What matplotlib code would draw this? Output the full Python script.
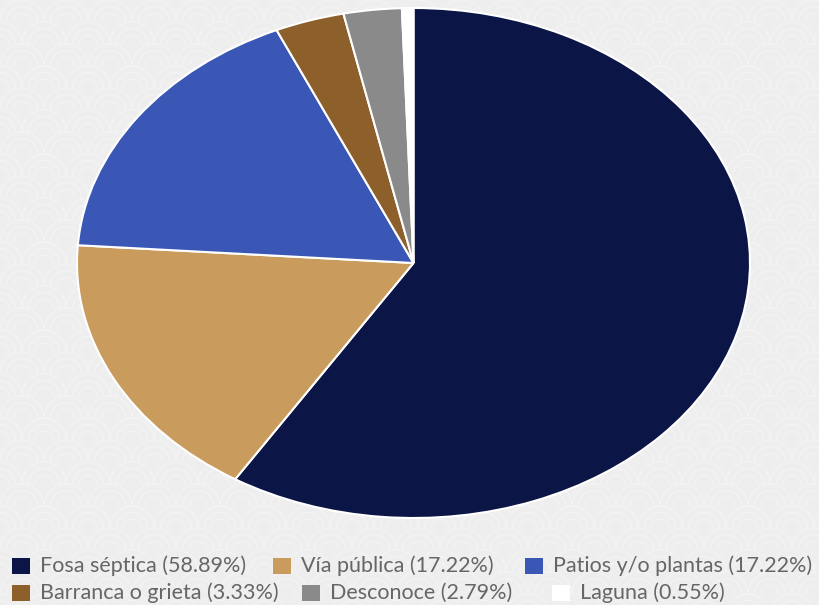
import matplotlib
matplotlib.use("Agg")
import matplotlib.pyplot as plt
import numpy as np
from matplotlib.patches import Rectangle, Arc

labels = ["Fosa séptica", "Vía pública", "Patios y/o plantas", "Barranca o grieta", "Desconoce", "Laguna"]
values = [58.89, 17.22, 17.22, 3.33, 2.79, 0.55]
colors = ["#0b1546", "#c99b5d", "#3b57b6", "#8c5f2b", "#8a8a8a", "#ffffff"]

W, H = 819, 605
fig = plt.figure(figsize=(W / 100, H / 100), dpi=100)
fig.patch.set_facecolor("#eeeeee")

# faint wave (seigaiha) background pattern
bg = fig.add_axes([0, 0, 1, 1], zorder=-10)
bg.set_xlim(0, W)
bg.set_ylim(H, 0)
bg.axis("off")
step_x, step_y, rad = 44, 22, 22
for j, yy in enumerate(np.arange(0, H + 2 * step_y, step_y)):
    off = (step_x / 2) * (j % 2)
    for xx in np.arange(-step_x, W + step_x, step_x):
        for k, rr in enumerate([rad, rad * 0.7, rad * 0.4]):
            bg.add_patch(Arc((xx + off, yy), 2 * rr, 2 * rr, theta1=180, theta2=360,
                             color="#f4f4f4", lw=0.8))

# pie axes spanning the elliptical area
left, right, top, bottom = 77, 750, 8, 518
ax = fig.add_axes([left / W, 1 - bottom / H, (right - left) / W, (bottom - top) / H])
ax.pie(values, colors=colors, startangle=90, counterclock=False,
       wedgeprops=dict(edgecolor="white", linewidth=1.5))
ax.set_xlim(-1, 1)
ax.set_ylim(-1, 1)
ax.set_aspect("auto")
ax.axis("off")

# legend in flow layout (two rows)
rows = [[0, 1, 2], [3, 4, 5]]
row_y = [566, 593]
marker_x = [[12, 273, 525], [12, 302, 552]]
for r, items in enumerate(rows):
    for c, i in enumerate(items):
        mx = marker_x[r][c]
        y = row_y[r]
        fig.patches.append(Rectangle((mx / W, 1 - (y + 8) / H), 18 / W, 16 / H,
                                     transform=fig.transFigure, facecolor=colors[i],
                                     edgecolor="none"))
        fig.text((mx + 28) / W, 1 - y / H, f"{labels[i]} ({values[i]:.2f}%)",
                 fontsize=15.5, family="Lato", color="#666666", va="center", ha="left")

fig.savefig("out.png", dpi=100, facecolor=fig.get_facecolor())
